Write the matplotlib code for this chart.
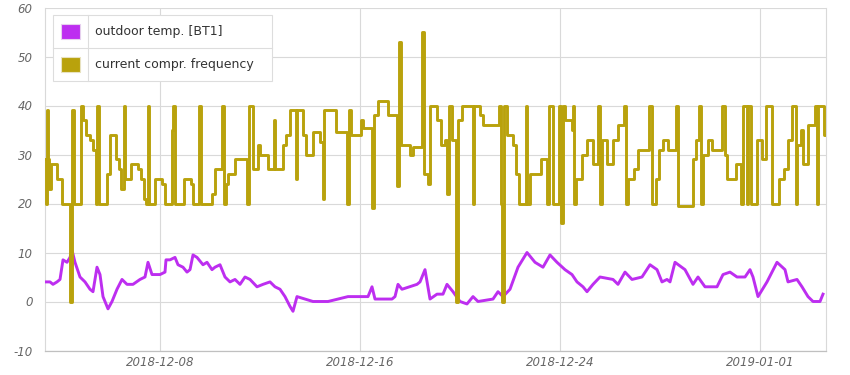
import pandas as pd
import matplotlib
matplotlib.use('Agg')
import matplotlib.pyplot as plt
import matplotlib.dates as mdates
from matplotlib.patches import Rectangle
from matplotlib.lines import Line2D

plt.rcParams['axes.unicode_minus'] = False

# Datos: días desde 2018-12-03 00:00
start = pd.Timestamp('2018-12-03')

temp_days = [0.40, 0.60, 0.72, 0.88, 1.00, 1.12, 1.28, 1.40, 1.48, 1.60, 1.80, 2.00, 2.20, 2.32,
             2.48, 2.60, 2.72, 2.92, 3.08, 3.28, 3.48, 3.68, 3.92, 4.20, 4.40, 4.52, 4.68, 5.00,
             5.20, 5.24, 5.40, 5.60, 5.72, 5.92, 6.08, 6.20, 6.32, 6.48, 6.72, 6.88, 7.08, 7.20,
             7.40, 7.60, 7.80, 8.00, 8.20, 8.40, 8.60, 8.88, 9.12, 9.40, 9.60, 9.80, 10.00, 10.20,
             10.32, 10.48, 10.80, 11.12, 11.72, 12.52, 13.32, 13.48, 13.60, 14.28, 14.40, 14.52,
             14.68, 15.28, 15.40, 15.60, 15.80, 16.08, 16.32, 16.48, 16.72, 17.00, 17.28, 17.52,
             17.72, 18.32, 18.52, 18.72, 19.00, 19.32, 19.68, 20.00, 20.32, 20.60, 20.88, 21.20,
             21.48, 21.68, 21.92, 22.08, 22.32, 22.60, 23.12, 23.32, 23.60, 23.88, 24.28, 24.60,
             24.88, 25.08, 25.28, 25.40, 25.60, 26.00, 26.32, 26.52, 26.80, 27.28, 27.52, 27.80,
             28.08, 28.40, 28.60, 28.72, 28.92, 29.28, 29.68, 30.00, 30.12, 30.48, 30.68, 30.92,
             31.12, 31.40, 31.52]
temp_vals = [4, 4, 3.5, 4, 4.5, 8.5, 8, 9, 10.5, 8, 5, 4, 2.5, 2,
             7, 5.5, 1, -1.5, 0, 2.5, 4.5, 3.5, 3.5, 4.5, 5, 8, 5.5, 5.5,
             6, 8.5, 8.5, 9, 7.5, 7, 6, 6.5, 9.5, 9, 7.5, 8, 6.5, 7,
             7.5, 5, 4, 4.5, 3.5, 5, 4.5, 3, 3.5, 4, 3, 2.5, 1, -1,
             -2, 1, 0.5, 0, 0, 1, 1, 3, 0.5, 0.5, 1, 3.5,
             2.5, 3.5, 4, 6.5, 0.5, 1.5, 1.5, 3.5, 2, 0, -0.5, 1,
             0, 0.5, 2, 1, 2.5, 7, 10, 8, 7, 9.5, 8, 6.5,
             5.5, 4, 3, 2, 3.5, 5, 4.5, 3.5, 6, 4.5, 5, 7.5,
             6.5, 4, 4.5, 4, 8, 6.5, 3.5, 5, 3, 3, 5.5, 6,
             5, 5, 6.5, 5, 1, 4, 8, 6.5, 4, 4.5, 3, 1,
             0, 0, 1.5]

freq_days = [0.40, 0.44, 0.48, 0.52, 0.56, 0.64, 0.88, 1.08, 1.40, 1.48, 1.56, 1.84, 1.92, 2.04,
             2.20, 2.32, 2.44, 2.48, 2.56, 2.88, 3.00, 3.24, 3.36, 3.44, 3.56, 3.60, 3.84, 4.12,
             4.24, 4.36, 4.44, 4.52, 4.56, 4.80, 5.08, 5.20, 5.48, 5.52, 5.60, 5.96, 6.24, 6.32,
             6.56, 6.64, 7.08, 7.20, 7.48, 7.56, 7.64, 7.72, 8.00, 8.48, 8.56, 8.72, 8.92, 9.00,
             9.32, 9.56, 9.60, 9.92, 10.04, 10.20, 10.44, 10.48, 10.72, 10.84, 11.12, 11.40,
             11.52, 11.56, 12.04, 12.48, 12.56, 12.64, 13.04, 13.12, 13.48, 13.56, 13.72, 14.12,
             14.48, 14.56, 14.64, 15.00, 15.12, 15.48, 15.56, 15.72, 15.80, 16.08, 16.24, 16.40,
             16.48, 16.56, 16.68, 16.84, 16.92, 17.08, 17.52, 17.56, 17.80, 17.92, 18.56, 18.64,
             18.68, 18.76, 18.88, 19.12, 19.24, 19.36, 19.64, 19.68, 19.80, 20.24, 20.48, 20.56,
             20.72, 20.96, 21.04, 21.12, 21.20, 21.48, 21.52, 21.56, 21.64, 21.88, 22.08, 22.32,
             22.52, 22.60, 22.68, 22.88, 23.12, 23.32, 23.56, 23.64, 23.72, 23.96, 24.12, 24.56,
             24.68, 24.84, 24.96, 25.12, 25.32, 25.64, 25.72, 26.32, 26.44, 26.56, 26.64, 26.72,
             26.92, 27.08, 27.48, 27.60, 27.68, 28.04, 28.24, 28.32, 28.48, 28.52, 28.64, 28.88,
             29.08, 29.24, 29.48, 29.76, 29.96, 30.12, 30.28, 30.44, 30.48, 30.64, 30.72, 30.92,
             31.20, 31.28, 31.32, 31.56, 31.64]
freq_vals = [29, 20, 39, 29, 23, 28, 25, 20, 0, 39, 20, 40, 37, 34,
             33, 31, 20, 40, 20, 26, 34, 29, 27, 23, 40, 25, 28, 27,
             25, 21, 20, 40, 20, 25, 24, 20, 35, 40, 20, 25, 24, 20,
             40, 20, 22, 27, 40, 20, 24, 26, 29, 20, 40, 27, 32, 30,
             27, 37, 27, 32, 34, 39, 25, 39, 34, 30, 34.5, 32.5,
             21, 39, 34.5, 20, 39, 34, 37, 35.5, 19, 38, 41, 38,
             23.5, 53, 32, 30, 31.5, 55, 26, 24, 40, 37, 32, 33,
             22, 40, 33, 0, 37, 40, 20, 40, 38, 36, 40, 20,
             0, 40, 34, 32, 26, 20, 40, 20, 26, 29, 20, 40,
             20, 40, 16, 40, 37, 35, 40, 20, 25, 30, 33, 28,
             40, 20, 33, 28, 33, 36, 40, 20, 25, 27, 31, 40,
             20, 25, 31, 33, 31, 40, 19.5, 29, 33, 40, 20, 30,
             33, 31, 40, 30, 25, 28, 20, 40, 20, 40, 20, 33,
             29, 40, 20, 25, 27, 33, 40, 20, 32, 35, 28, 36,
             40, 20, 40, 34, 34]

series_labels = ['outdoor temp. [BT1]', 'current compr. frequency']
series_colors = ['#bd2ef0', '#b9a20c']
x_ticks = ['2018-12-08', '2018-12-16', '2018-12-24', '2019-01-01']
y_ticks = [-10, 0, 10, 20, 30, 40, 50, 60]

t_temp = start + pd.to_timedelta(temp_days, unit='D')
t_freq = start + pd.to_timedelta(freq_days, unit='D')

fig = plt.figure(figsize=(8.5, 3.75), dpi=100)
ax = fig.add_axes([45 / 850, 24.5 / 375, 781 / 850, 343 / 375])

# Series (la frecuencia va encima)
ax.plot(t_temp, temp_vals, color=series_colors[0], lw=2.1, zorder=3, solid_joinstyle='round')
ax.plot(t_freq, freq_vals, color=series_colors[1], lw=2.1, drawstyle='steps-post', zorder=4)

ax.set_ylim(-10, 60)
ax.set_yticks(y_ticks)
ax.set_xlim(start + pd.Timedelta(days=0.4), start + pd.Timedelta(days=31.64))
ax.set_xticks(pd.to_datetime(x_ticks))
ax.xaxis.set_major_formatter(mdates.DateFormatter('%Y-%m-%d'))

ax.grid(True, color='#d9d9d9', lw=0.8, zorder=0)
ax.set_axisbelow(True)
ax.spines['top'].set_visible(False)
for s in ['left', 'right']:
    ax.spines[s].set_color('#d9d9d9')
    ax.spines[s].set_linewidth(0.8)
ax.spines['bottom'].set_color('#c0c0c0')
ax.spines['bottom'].set_linewidth(0.9)

ax.tick_params(axis='both', length=0, labelsize=8.5, labelcolor='#666666')
ax.tick_params(axis='y', pad=9)
ax.tick_params(axis='x', pad=4)
for lab in ax.get_xticklabels() + ax.get_yticklabels():
    lab.set_fontstyle('italic')

# Leyenda tipo tabla
W, H = 850, 375
def fx(px):
    return px / W
def fy(py):
    return 1 - py / H

box_col = '#dddddd'
fig.patches.append(Rectangle((fx(53), fy(81)), fx(272) - fx(53), fy(15) - fy(81),
                             transform=fig.transFigure, facecolor='white', edgecolor=box_col,
                             lw=0.8, zorder=10))
fig.lines.append(Line2D([fx(53), fx(272)], [fy(48), fy(48)], transform=fig.transFigure,
                        color=box_col, lw=0.8, zorder=11))
fig.lines.append(Line2D([fx(88), fx(88)], [fy(15), fy(81)], transform=fig.transFigure,
                        color=box_col, lw=0.8, zorder=11))
for i, (lab, col) in enumerate(zip(series_labels, series_colors)):
    yc = 31.5 + i * 33
    fig.patches.append(Rectangle((fx(61), fy(yc + 7.5)), fx(80) - fx(61), fy(yc - 7.5) - fy(yc + 7.5),
                                 transform=fig.transFigure, facecolor=col,
                                 edgecolor='#e6d0ee' if i == 0 else '#e8e2c0',
                                 lw=0.8, zorder=12))
    fig.text(fx(95), fy(yc), lab, fontsize=9, color='#333333', va='center', ha='left', zorder=12)

plt.savefig('out.png', dpi=100, facecolor='white')
